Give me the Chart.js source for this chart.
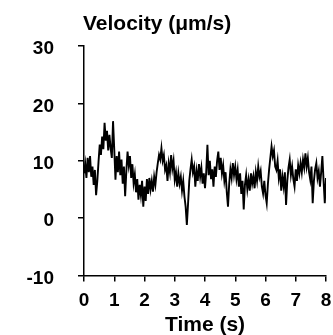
<!DOCTYPE html>
<html>
<head>
<meta charset="utf-8">
<script src="https://cdn.jsdelivr.net/npm/chart.js@4/dist/chart.umd.min.js"></script>
<style>
  html, body { margin: 0; padding: 0; background: #fff; }
  #wrap { width: 333px; height: 335px; }
</style>
</head>
<body>
<div id="wrap"><canvas id="chart" width="333" height="335"></canvas></div>
<script>
// velocity trace, one sample every 0.04 s from 0 to 8 s
const sampleStep = 0.04;
const velocity = [
  7.8, 9.5, 7.0, 10.5, 8.0, 10.8, 7.2, 9.0, 5.8, 8.4, 4.0, 6.5, 9.8, 12.8, 11.0, 14.2, 12.0, 16.6, 13.5, 15.2, 11.8, 14.5, 12.2, 10.5, 16.9,
  12.0, 6.7, 10.8, 8.0, 11.6, 7.5, 10.2, 6.0, 9.0, 3.8, 8.2, 11.6, 9.2, 10.8, 7.0, 9.4, 6.1, 7.6, 4.5, 6.8, 3.2, 5.8, 4.0, 6.5, 2.0,
  5.5, 3.0, 6.8, 4.2, 7.0, 5.0, 6.5, 4.6, 7.2, 5.8, 8.0, 9.6, 11.0, 10.2, 12.2, 10.0, 11.0, 8.4, 9.2, 6.5, 9.5, 8.0, 11.0, 8.6, 10.0,
  6.7, 8.0, 5.5, 7.8, 6.0, 7.2, 4.8, 6.5, 3.8, 2.0, -1.2, 2.5, 6.5, 8.5, 10.2, 8.0, 9.0, 5.5, 8.2, 6.5, 9.4, 7.2, 8.8, 6.0, 7.8,
  5.2, 8.0, 12.8, 7.5, 10.0, 6.8, 8.5, 5.5, 9.0, 7.2, 10.0, 11.6, 8.4, 10.5, 7.8, 9.2, 6.5, 8.0, 4.5, 2.0, 6.0, 8.5, 7.0, 9.6, 7.5,
  9.0, 6.8, 8.4, 5.5, 7.8, 4.2, 6.5, 1.5, 5.8, 7.5, 5.0, 6.7, 4.8, 7.8, 6.0, 7.3, 5.2, 8.0, 6.5, 9.0, 7.2, 8.2, 5.5, 4.3, 6.5,
  4.0, 2.6, 6.0, 8.5, 10.5, 12.5, 10.8, 11.8, 9.0, 8.4, 10.0, 7.0, 8.5, 4.8, 7.2, 5.5, 8.0, 2.3, 6.5, 8.8, 10.2, 7.5, 9.0, 6.8, 5.5,
  8.5, 6.5, 9.2, 7.8, 9.6, 8.0, 10.2, 8.8, 11.3, 9.0, 10.5, 8.0, 6.7, 9.0, 2.6, 6.5, 8.5, 9.6, 7.0, 8.2, 5.5, 8.0, 10.8, 6.5, 2.6,
  7.0
];
const xRange = [0, 8];
const yRange = [-10, 30];
const chartTitle = 'Velocity (μm/s)';
const xTitle = 'Time (s)';

const fontFamily = '"Liberation Sans", Arial, sans-serif';

const points = velocity.map((v, i) => ({ x: i * sampleStep, y: v }));

// title sits flush with the y axis, so draw it from the chart area
const topTitle = {
  id: 'topTitle',
  afterDraw(chart) {
    const c = chart.ctx;
    c.save();
    c.font = 'bold 21px ' + fontFamily;
    c.fillStyle = '#000';
    c.textAlign = 'left';
    c.textBaseline = 'alphabetic';
    c.fillText(chartTitle, chart.chartArea.left - 1, 30);
    c.restore();
  }
};

new Chart(document.getElementById('chart'), {
  type: 'line',
  data: {
    datasets: [{
      data: points,
      borderColor: '#000',
      borderWidth: 1.9,
      pointRadius: 0,
      tension: 0,
      fill: false
    }]
  },
  options: {
    responsive: false,
    animation: false,
    layout: { padding: { left: 0, right: 7, top: 46, bottom: 0 } },
    plugins: {
      legend: { display: false },
      tooltip: { enabled: false }
    },
    scales: {
      x: {
        type: 'linear',
        min: xRange[0],
        max: xRange[1],
        ticks: { stepSize: 1, color: '#000', font: { family: fontFamily, size: 19, weight: 'bold' }, padding: 8, maxRotation: 0 },
        grid: { drawOnChartArea: false, drawTicks: true, tickLength: 6, color: '#000', lineWidth: 1.5 },
        border: { color: '#000', width: 1.5 },
        title: { display: true, text: xTitle, color: '#000', font: { family: fontFamily, size: 21, weight: 'bold' }, padding: { top: 0, bottom: -3 } },
        afterFit(s) {
          s.height = 59.5;
          s.paddingLeft = 0;
          s.paddingRight = 0;
        }
      },
      y: {
        min: yRange[0],
        max: yRange[1],
        ticks: { stepSize: 10, color: '#000', font: { family: fontFamily, size: 19, weight: 'bold' }, padding: 24, labelOffset: 3 },
        grid: { drawOnChartArea: false, drawTicks: true, tickLength: 6, color: '#000', lineWidth: 1.5 },
        border: { color: '#000', width: 1.5 },
        afterFit(s) { s.width = 84; }
      }
    }
  },
  plugins: [topTitle]
});
</script>
</body>
</html>
